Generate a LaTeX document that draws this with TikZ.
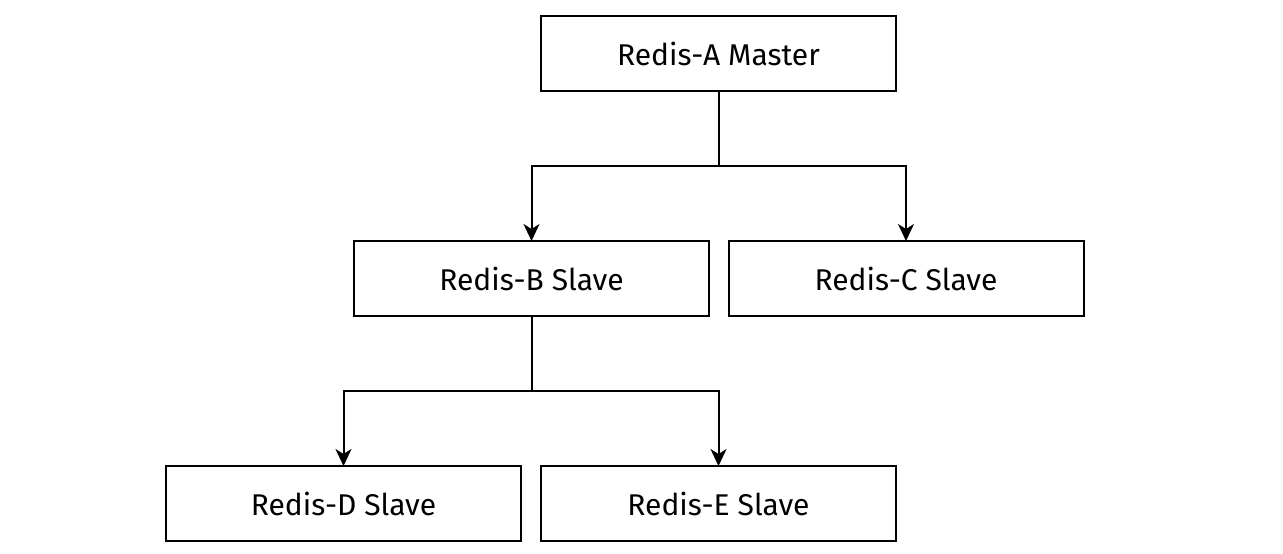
\documentclass[tikz,border=0pt]{standalone}
\usepackage{fontspec}
\setmainfont{Fira Sans}
\usetikzlibrary{positioning,arrows.meta}

\begin{document}
\begin{tikzpicture}[x=1pt, y=1pt, node distance=150pt,
                    line width=2pt,
                    redis node/.style={rectangle,draw,minimum width=355pt,minimum height=75pt,
                                       inner sep=0pt,outer sep=0pt,font=\fontsize{30}{34}\selectfont},
                    link/.style={-{Stealth[length=17pt,width=16pt,inset=5pt]}}]

  \useasboundingbox (0,0) rectangle (1283,-554);

  \node[redis node] (A) at (718.5,-53.5) {Redis-A Master};
  \node[redis node] (B) [below=of A, xshift=-187pt] {Redis-B Slave};
  \node[redis node] (C) [below=of A, xshift=187.5pt] {Redis-C Slave};
  \node[redis node] (D) [below=of B, xshift=-188pt] {Redis-D Slave};
  \node[redis node] (E) [below=of B, xshift=187pt] {Redis-E Slave};

  \draw[link] (A.south) |- ([yshift=75pt]B.north) -- (B.north);
  \draw[link] (A.south) |- ([yshift=75pt]C.north) -- (C.north);
  \draw[link] (B.south) |- ([yshift=75pt]D.north) -- (D.north);
  \draw[link] (B.south) |- ([yshift=75pt]E.north) -- (E.north);

\end{tikzpicture}
\end{document}
